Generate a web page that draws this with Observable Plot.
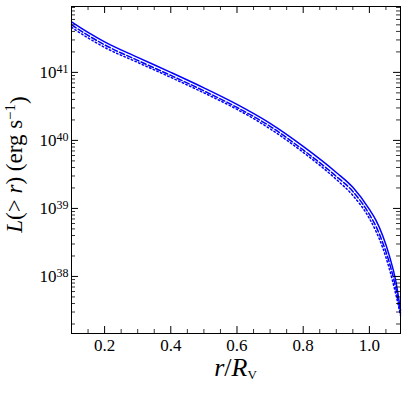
<!DOCTYPE html>
<html>
<head>
<meta charset="utf-8">
<script src="https://cdn.jsdelivr.net/npm/d3@7"></script>
<script src="https://cdn.jsdelivr.net/npm/@observablehq/plot@0.6"></script>
<style>
  html, body { margin: 0; padding: 0; background: white; }
  svg { display: block; }
  svg text, svg tspan { font-family: serif !important; }
</style>
</head>
<body>
<div id="chart"></div>
<script>
// r / R_V sample points
const rValues = [0.10, 0.15, 0.20, 0.30, 0.40, 0.50, 0.60, 0.70, 0.80, 0.90, 0.95, 1.00, 1.02, 1.04, 1.06, 1.08, 1.094];
// L(>r) in erg/s, three curves
const Lsolid  = [5.53e41, 3.87e41, 2.81e41, 1.66e41, 1.00e41, 5.92e40, 3.38e40, 1.78e40, 8.17e39, 3.38e39, 2.04e39, 9.66e38, 6.67e38, 4.01e38, 2.04e38, 8.44e37, 3.16e37];
const Ldashed = [5.00e41, 3.50e41, 2.54e41, 1.50e41, 9.03e40, 5.35e40, 3.05e40, 1.61e40, 7.24e39, 2.96e39, 1.78e39, 8.17e38, 5.43e38, 3.16e38, 1.61e38, 6.67e37, 2.86e37];
const Ldotted = [4.59e41, 3.21e41, 2.33e41, 1.40e41, 8.44e40, 5.00e40, 2.86e40, 1.48e40, 6.67e39, 2.67e39, 1.55e39, 7.13e38, 4.59e38, 2.67e38, 1.31e38, 5.43e37, 2.67e37];

const xMajorTicks = [0.2, 0.4, 0.6, 0.8, 1.0];
const xTickLabels = ["0.2", "0.4", "0.6", "0.8", "1.0"];
const xMinorTicks = [0.15, 0.25, 0.3, 0.35, 0.45, 0.5, 0.55, 0.65, 0.7, 0.75, 0.85, 0.9, 0.95, 1.05];
const yMajorTicks = [1e38, 1e39, 1e40, 1e41];
const yTickExponents = ["38", "39", "40", "41"];
const yMinorTicks = [];
for (const e of [37, 38, 39, 40, 41]) for (let m = 2; m <= 9; m++) {
  const v = m * Math.pow(10, e);
  if (v > 1.45e37 && v < 9.3e41) yMinorTicks.push(v);
}

const toRows = (L) => rValues.map((r, i) => ({ r, L: L[i] }));

const W = 407, H = 394, mL = 71, mT = 6, mR = 7, mB = 61;
const fw = W - mL - mR, fh = H - mT - mB;
const blue = "#0000ff";
const serif = "serif";

const chart = Plot.plot({
  width: W, height: H,
  marginLeft: mL, marginTop: mT, marginRight: mR, marginBottom: mB,
  style: { fontFamily: serif, fontSize: "17px", background: "white", color: "black", overflow: "visible" },
  x: { domain: [0.1, 1.094] },
  y: { type: "log", domain: [1.45e37, 9.3e41] },
  marks: [
    Plot.line(toRows(Ldotted), { x: "r", y: "L", stroke: blue, strokeWidth: 1.5, strokeDasharray: "1.5,2.5", curve: "monotone-x" }),
    Plot.line(toRows(Ldashed), { x: "r", y: "L", stroke: blue, strokeWidth: 1.5, strokeDasharray: "5.5,2.4", curve: "monotone-x" }),
    Plot.line(toRows(Lsolid),  { x: "r", y: "L", stroke: blue, strokeWidth: 1.5, curve: "monotone-x" }),
    // inward ticks on all four sides
    Plot.ruleX(xMajorTicks, { insetTop: fh - 7, stroke: "black", strokeWidth: 1 }),
    Plot.ruleX(xMajorTicks, { insetBottom: fh - 7, stroke: "black", strokeWidth: 1 }),
    Plot.ruleX(xMinorTicks, { insetTop: fh - 4, stroke: "black", strokeWidth: 0.8 }),
    Plot.ruleX(xMinorTicks, { insetBottom: fh - 4, stroke: "black", strokeWidth: 0.8 }),
    Plot.ruleY(yMajorTicks, { insetRight: fw - 7, stroke: "black", strokeWidth: 1 }),
    Plot.ruleY(yMajorTicks, { insetLeft: fw - 7, stroke: "black", strokeWidth: 1 }),
    Plot.ruleY(yMinorTicks, { insetRight: fw - 4, stroke: "black", strokeWidth: 0.8 }),
    Plot.ruleY(yMinorTicks, { insetLeft: fw - 4, stroke: "black", strokeWidth: 0.8 }),
    Plot.frame({ stroke: "black", strokeWidth: 1 }),
    Plot.axisX(xMajorTicks, { tickSize: 0, tickPadding: 5, tickFormat: (d, i) => xTickLabels[i], label: null, fontSize: 17, fontFamily: serif }),
    Plot.axisY(yMajorTicks, { tickSize: 0, tickPadding: 3, tickFormat: (d, i) => "10", label: null, fontSize: 17, fontFamily: serif })
  ]
});

document.getElementById("chart").appendChild(chart);
const svg = d3.select(chart);

// superscript exponents on y tick labels
svg.selectAll('g[aria-label="y-axis tick label"] text').each(function (d, i) {
  const t = d3.select(this);
  t.attr("dy", "0.02em");
  t.text("10");
  t.append("tspan").attr("dy", "-0.45em").attr("font-size", "12px").text(yTickExponents[i]);
});

// y axis label
const yl = svg.append("text")
  .attr("transform", `translate(22,${mT + fh / 2 - 5}) rotate(-90)`)
  .attr("text-anchor", "middle")
  .attr("font-family", serif)
  .attr("font-size", "23px")
  .attr("fill", "black");
yl.append("tspan").attr("font-style", "italic").text("L");
yl.append("tspan").text("(> ");
yl.append("tspan").attr("font-style", "italic").text("r");
yl.append("tspan").text(") (erg s");
yl.append("tspan").attr("dy", "-0.45em").attr("font-size", "15px").text("−1");
yl.append("tspan").attr("dy", "0.45em").text(")");

// x axis label
const xl = svg.append("text")
  .attr("x", mL + fw / 2)
  .attr("y", 376)
  .attr("text-anchor", "middle")
  .attr("font-family", serif)
  .attr("font-size", "26px")
  .attr("fill", "black");
xl.append("tspan").attr("font-style", "italic").text("r");
xl.append("tspan").text("/");
xl.append("tspan").attr("font-style", "italic").text("R");
xl.append("tspan").attr("dy", "0.25em").attr("font-size", "13px").text("V");
</script>
</body>
</html>
